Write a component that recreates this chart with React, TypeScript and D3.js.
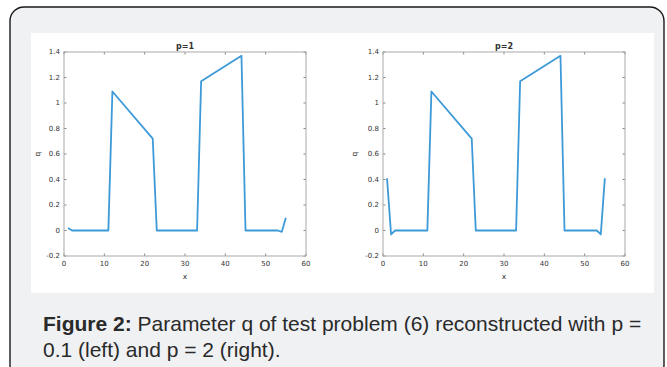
import React, { useRef, useEffect } from "react";
import * as d3 from "d3";

// vertices of the reconstructed parameter q
const xLeft = [1, 2, 11, 12, 22, 23, 33, 34, 44, 45, 53, 54, 55];
const qLeft = [0.02, 0, 0, 1.09, 0.72, 0, 0, 1.17, 1.37, 0, 0, -0.01, 0.1];
const xRight = [1, 2, 3, 11, 12, 22, 23, 33, 34, 44, 45, 53, 54, 55];
const qRight = [0.41, -0.03, 0, 0, 1.09, 0.72, 0, 0, 1.17, 1.37, 0, 0, -0.03, 0.41];

const xTicks = [0, 10, 20, 30, 40, 50, 60];
const yTicks = [-0.2, 0, 0.2, 0.4, 0.6, 0.8, 1, 1.2, 1.4];
const titles = ["p=1", "p=2"];

const captionBold = "Figure 2:";
const captionLine1 = " Parameter q of test problem (6) reconstructed with p =";
const captionLine2 = "0.1 (left) and p = 2 (right).";

export default function App() {
  const svgRef = useRef<SVGSVGElement>(null);

  useEffect(() => {
    const svg = d3.select(svgRef.current);
    svg.selectAll("*").remove();

    // card
    svg
      .append("rect")
      .attr("x", 10)
      .attr("y", 7)
      .attr("width", 654)
      .attr("height", 372)
      .attr("rx", 14)
      .attr("fill", "#f0f1f3")
      .attr("stroke", "#1a1a1a")
      .attr("stroke-width", 1.4);

    svg
      .append("rect")
      .attr("x", 31)
      .attr("y", 33)
      .attr("width", 623)
      .attr("height", 260)
      .attr("fill", "#ffffff");

    const panels = [
      { left: 64, xs: xLeft, qs: qLeft, title: titles[0], yLabelX: 40 },
      { left: 383, xs: xRight, qs: qRight, title: titles[1], yLabelX: 357 },
    ];

    const top = 52;
    const bottom = 256;
    const w = 242;

    panels.forEach((p) => {
      const x = d3.scaleLinear().domain([0, 60]).range([p.left, p.left + w]);
      const y = d3.scaleLinear().domain([-0.2, 1.4]).range([bottom, top]);
      const g = svg.append("g");

      // ticks on all four sides (inside)
      xTicks.forEach((t) => {
        g.append("line")
          .attr("x1", x(t)).attr("x2", x(t))
          .attr("y1", bottom).attr("y2", bottom - 2.5)
          .attr("stroke", "#888");
        g.append("line")
          .attr("x1", x(t)).attr("x2", x(t))
          .attr("y1", top).attr("y2", top + 2.5)
          .attr("stroke", "#888");
        g.append("text")
          .attr("x", x(t))
          .attr("y", bottom + 10)
          .attr("text-anchor", "middle")
          .attr("font-family", "DejaVu Sans")
          .attr("font-size", 7)
          .attr("fill", "#333")
          .text(String(t));
      });
      yTicks.forEach((t) => {
        g.append("line")
          .attr("x1", p.left).attr("x2", p.left + 2.5)
          .attr("y1", y(t)).attr("y2", y(t))
          .attr("stroke", "#888");
        g.append("line")
          .attr("x1", p.left + w).attr("x2", p.left + w - 2.5)
          .attr("y1", y(t)).attr("y2", y(t))
          .attr("stroke", "#888");
        g.append("text")
          .attr("x", p.left - 4)
          .attr("y", y(t))
          .attr("dy", "0.35em")
          .attr("text-anchor", "end")
          .attr("font-family", "DejaVu Sans")
          .attr("font-size", 7)
          .attr("fill", "#333")
          .text(String(+t.toFixed(1)));
      });

      g.append("rect")
        .attr("x", p.left)
        .attr("y", top)
        .attr("width", w)
        .attr("height", bottom - top)
        .attr("fill", "none")
        .attr("stroke", "#aaa")
        .attr("stroke-width", 1);

      const line = d3
        .line<number>()
        .x((d) => x(d))
        .y((_, i) => y(p.qs[i]));

      g.append("path")
        .attr("d", line(p.xs))
        .attr("fill", "none")
        .attr("stroke", "#3d9ad8")
        .attr("stroke-width", 1.8)
        .attr("stroke-linejoin", "round");

      g.append("text")
        .attr("x", p.left + w / 2)
        .attr("y", top - 3)
        .attr("text-anchor", "middle")
        .attr("font-family", "DejaVu Sans")
        .attr("font-weight", "bold")
        .attr("font-size", 8)
        .attr("fill", "#333")
        .text(p.title);

      g.append("text")
        .attr("x", p.left + w / 2)
        .attr("y", 279)
        .attr("text-anchor", "middle")
        .attr("font-family", "DejaVu Sans")
        .attr("font-size", 7.5)
        .attr("fill", "#333")
        .text("x");

      g.append("text")
        .attr("transform", `translate(${p.yLabelX},${(top + bottom) / 2}) rotate(-90)`)
        .attr("text-anchor", "middle")
        .attr("font-family", "DejaVu Sans")
        .attr("font-size", 7.5)
        .attr("fill", "#333")
        .text("q");
    });

    // caption
    const c1 = svg
      .append("text")
      .attr("x", 43)
      .attr("y", 331)
      .attr("font-family", "Liberation Sans, Arial")
      .attr("font-size", 21)
      .attr("fill", "#2a2a2a");
    c1.append("tspan").attr("font-weight", "bold").text(captionBold);
    c1.append("tspan").text(captionLine1);

    svg
      .append("text")
      .attr("x", 43)
      .attr("y", 357)
      .attr("font-family", "Liberation Sans, Arial")
      .attr("font-size", 21)
      .attr("fill", "#2a2a2a")
      .text(captionLine2);
  }, []);

  return (
    <svg
      ref={svgRef}
      width={667}
      height={367}
      style={{ position: "absolute", left: 0, top: 0, background: "#ffffff" }}
    />
  );
}
